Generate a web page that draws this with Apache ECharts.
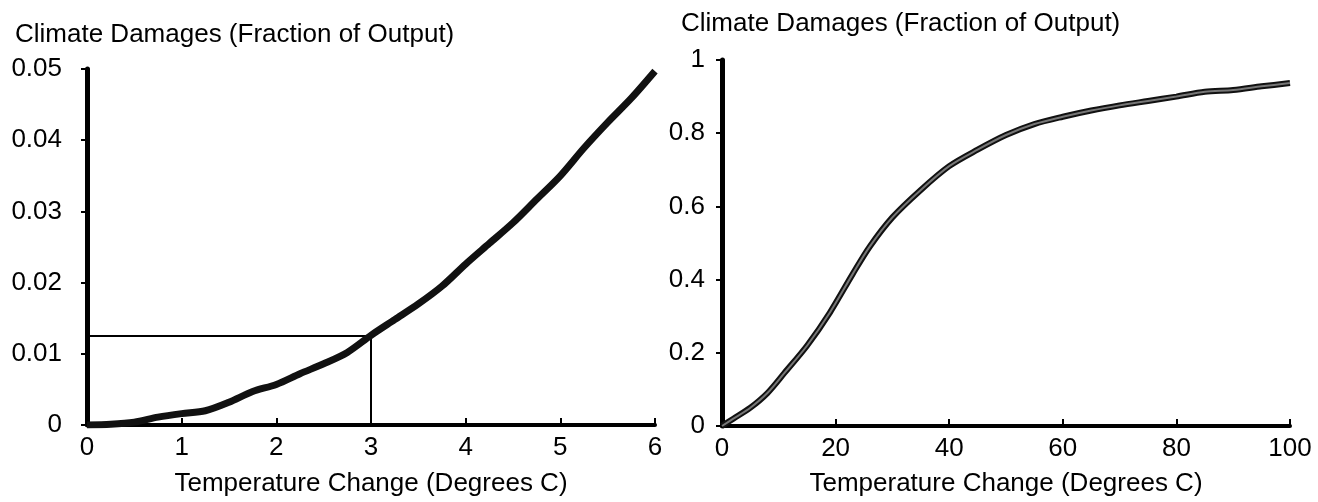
<!DOCTYPE html>
<html>
<head>
<meta charset="utf-8">
<script src="https://cdn.jsdelivr.net/npm/echarts@6/dist/echarts.min.js"></script>
<style>html,body{margin:0;padding:0;background:#fff}#c{width:1318px;height:502px}</style>
</head>
<body>
<div id="c"></div>
<script>
// Left panel: temperature change (deg C) and damages (fraction of output)
const leftTemp = [0,0.25,0.5,0.75,1,1.25,1.5,1.75,2,2.25,2.5,2.75,3,3.25,3.5,3.75,4,4.25,4.5,4.75,5,5.25,5.5,5.75,6];
const leftDamage = [0,0.0001,0.0004,0.0011,0.0016,0.0020,0.0032,0.0047,0.0057,0.0072,0.0086,0.0102,0.0126,0.0148,0.0170,0.0195,0.0226,0.0255,0.0284,0.0317,0.0350,0.0389,0.0425,0.0459,0.0497];
// Reference point marked on left panel
const markTemp = 3;
const markDamage = 0.0125;
// Right panel
const rightTemp = [0,2,5,8,11,15,19,23,26,30,35,40,45,50,55,60,65,70,75,80,85,90,95,100];
const rightDamage = [0,0.02,0.05,0.09,0.145,0.22,0.31,0.415,0.49,0.57,0.645,0.71,0.755,0.795,0.825,0.845,0.862,0.876,0.888,0.900,0.913,0.918,0.928,0.937];
// Axis ticks
const leftXTicks = [0,1,2,3,4,5,6];
const leftYTicks = [0,0.01,0.02,0.03,0.04,0.05];
const rightXTicks = [0,20,40,60,80,100];
const rightYTicks = [0,0.2,0.4,0.6,0.8,1];
const yTitle = 'Climate Damages (Fraction of Output)';
const xTitle = 'Temperature Change (Degrees C)';

const FONT = 'Liberation Sans';
const FS = 26;
const chart = echarts.init(document.getElementById('c'), null, {renderer:'canvas'});
const zip = (a,b) => a.map((v,i)=>[v,b[i]]);

function xAxis(gi, ticks, nameGap){
  return {
    type:'value', gridIndex:gi, min:ticks[0], max:ticks[ticks.length-1], interval:ticks[1]-ticks[0],
    name:xTitle, nameLocation:'middle', nameGap:nameGap,
    nameTextStyle:{color:'#000', fontFamily:FONT, fontSize:FS},
    axisLine:{show:true, onZero:false, lineStyle:{color:'#000', width:4}},
    axisTick:{show:true, inside:true, length:7, lineStyle:{color:'#000', width:2}},
    axisLabel:{color:'#000', fontFamily:FONT, fontSize:FS, margin:10},
    splitLine:{show:false}
  };
}
function yAxis(gi, ticks, margin, fmt){
  return {
    type:'value', gridIndex:gi, min:ticks[0], max:ticks[ticks.length-1], interval:ticks[1]-ticks[0],
    axisLine:{show:true, onZero:false, lineStyle:{color:'#000', width:5}},
    axisTick:{show:true, inside:false, length:6, lineStyle:{color:'#000', width:2}},
    axisLabel:{color:'#000', fontFamily:FONT, fontSize:FS, margin:margin, formatter:fmt},
    splitLine:{show:false}
  };
}

chart.setOption({
  animation:false,
  backgroundColor:'#fff',
  title:[
    {text:yTitle, left:10, top:17, textStyle:{color:'#000', fontFamily:FONT, fontSize:FS, fontWeight:'normal'}},
    {text:yTitle, left:676, top:6, textStyle:{color:'#000', fontFamily:FONT, fontSize:FS, fontWeight:'normal'}}
  ],
  grid:[
    {left:87, top:69, width:568, height:359},
    {left:722, top:60, width:568, height:369}
  ],
  xAxis:[xAxis(0,leftXTicks,46), xAxis(1,rightXTicks,45)],
  yAxis:[
    yAxis(0,leftYTicks,25,v=>String(+v.toFixed(2))),
    yAxis(1,rightYTicks,17,v=>String(+v.toFixed(1)))
  ],
  series:[
    {type:'line', xAxisIndex:0, yAxisIndex:0, symbol:'none', silent:true,
     data:[[leftTemp[0],markDamage],[markTemp,markDamage]], lineStyle:{color:'#000', width:2}},
    {type:'line', xAxisIndex:0, yAxisIndex:0, symbol:'none', silent:true,
     data:[[markTemp,leftDamage[0]],[markTemp,markDamage]], lineStyle:{color:'#000', width:2}},
    {type:'line', xAxisIndex:0, yAxisIndex:0, symbol:'none', smooth:0.3,
     data:zip(leftTemp,leftDamage), lineStyle:{color:'#111', width:7}},
    {type:'line', xAxisIndex:1, yAxisIndex:1, symbol:'none', smooth:0.3,
     data:zip(rightTemp,rightDamage), lineStyle:{color:'#111', width:6}},
    {type:'line', xAxisIndex:1, yAxisIndex:1, symbol:'none', smooth:0.3,
     data:zip(rightTemp,rightDamage), lineStyle:{color:'#777', width:2}}
  ]
});
</script>
</body>
</html>
